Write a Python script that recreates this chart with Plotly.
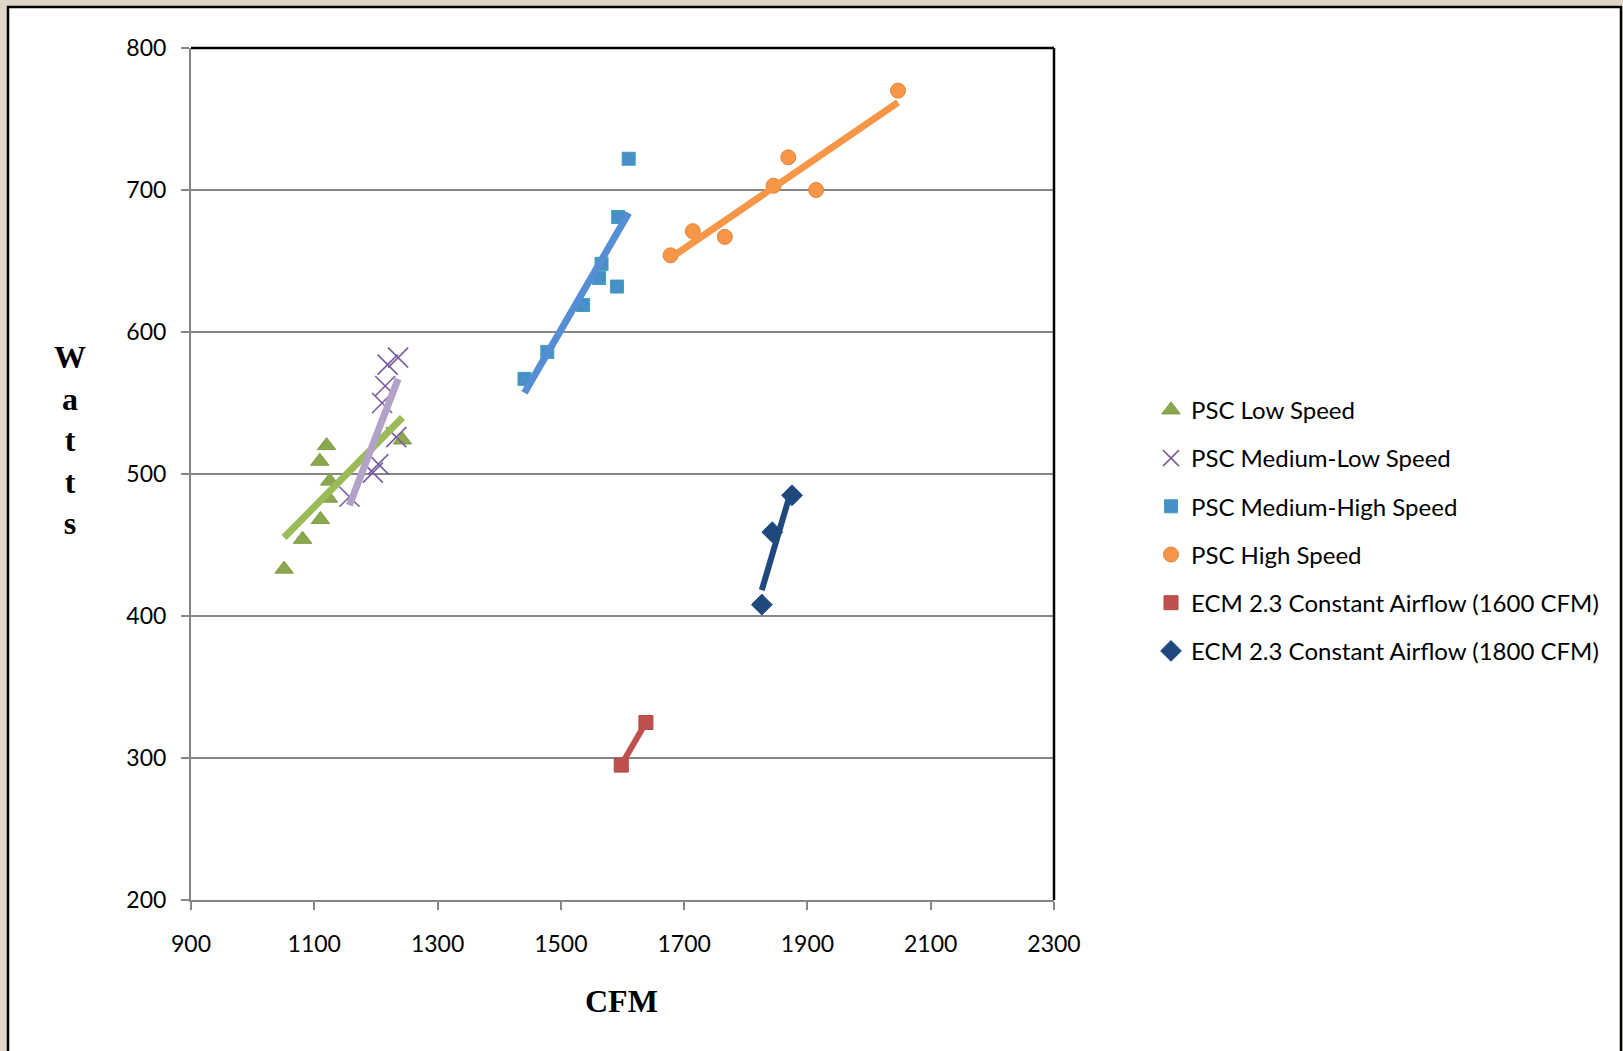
import numpy as np
import plotly.graph_objects as go

# ---- data ----
low_cfm = [1051, 1081, 1110, 1109, 1120, 1123, 1125, 1243]
low_w = [433, 454, 468, 509, 520, 483, 495, 524]

medlow_cfm = [1157, 1195, 1204, 1210, 1215, 1219, 1233, 1236]
medlow_w = [484, 501, 507, 550, 562, 577, 526, 582]

medhigh_cfm = [1441, 1478, 1536, 1562, 1566, 1591, 1593, 1610]
medhigh_w = [567, 586, 619, 638, 648, 632, 681, 722]

high_cfm = [1678, 1714, 1766, 1845, 1869, 1914, 2047]
high_w = [654, 671, 667, 703, 723, 700, 770]

ecm1600_cfm = [1598, 1638]
ecm1600_w = [295, 325]

ecm1800_cfm = [1826, 1843, 1875]
ecm1800_w = [408, 459, 485]

series_names = ["PSC Low Speed", "PSC Medium-Low Speed", "PSC Medium-High Speed",
                "PSC High Speed", "ECM 2.3 Constant Airflow (1600 CFM)",
                "ECM 2.3 Constant Airflow (1800 CFM)"]

x_ticks = [900, 1100, 1300, 1500, 1700, 1900, 2100, 2300]
y_ticks = [200, 300, 400, 500, 600, 700, 800]

# ---- styling ----
FONT = "Lato"
W, H = 1623, 1051
L, R, T, B = 191, 1054, 48, 900.5

def px_x(p):
    return (p - L) / (R - L)

def px_y(p):
    return (B - p) / (B - T)

series = [
    (low_cfm, low_w, dict(symbol="triangle-up", size=16, color="#8CA84E",
                          line=dict(color="#7E9A45", width=1)), "#9BBB59"),
    (medlow_cfm, medlow_w, dict(symbol="x-thin", size=20, color="#7A5C9E",
                                line=dict(color="#7A5C9E", width=1.6)), "#B3A2C7"),
    (medhigh_cfm, medhigh_w, dict(symbol="square-x", size=13, color="#4A8CCB",
                                  line=dict(color="#3FA3B8", width=1)), "#558ED5"),
    (high_cfm, high_w, dict(symbol="circle", size=15, color="#F79646",
                            line=dict(color="#E0843A", width=1)), "#F79646"),
    (ecm1600_cfm, ecm1600_w, dict(symbol="square", size=14, color="#C0504D",
                                  line=dict(color="#B04845", width=1)), "#C0504D"),
    (ecm1800_cfm, ecm1800_w, dict(symbol="diamond", size=16, color="#1F497D",
                                  line=dict(color="#1F497D", width=1)), "#1F497D"),
]

fig = go.Figure()

for i, (xs, ys, mk, _) in enumerate(series):
    fig.add_trace(go.Scatter(x=xs, y=ys, mode="markers", marker=mk,
                             name=series_names[i], legendgroup=f"g{i}",
                             showlegend=True))

for i, (xs, ys, _, lc) in enumerate(series):
    xa = np.array(xs, dtype=float)
    ya = np.array(ys, dtype=float)
    m, c = np.polyfit(xa, ya, 1)
    xr = np.array([xa.min(), xa.max()])
    fig.add_trace(go.Scatter(x=xr, y=m * xr + c, mode="lines",
                             line=dict(color=lc, width=7 if i < 4 else 6),
                             showlegend=False, hoverinfo="skip"))

fig.update_layout(
    width=W, height=H,
    margin=dict(l=L, r=W - R, t=T, b=H - B, autoexpand=False),
    paper_bgcolor="#DDD6C9",
    plot_bgcolor="white",
    font=dict(family=FONT, size=23, color="black"),
    showlegend=True,
    legend=dict(x=px_x(1151), y=px_y(388), xanchor="left", yanchor="top",
                bgcolor="rgba(0,0,0,0)", font=dict(family=FONT, size=24),
                traceorder="grouped", tracegroupgap=14, itemwidth=30),
    xaxis=dict(range=[900, 2300], tickvals=x_ticks, ticks="outside", ticklen=8,
               tickcolor="#868686", tickwidth=1.5, showgrid=False, zeroline=False,
               showline=True, linecolor="#868686", linewidth=2,
               ticklabelstandoff=14),
    yaxis=dict(range=[200, 800], tickvals=y_ticks, ticks="outside", ticklen=8,
               tickcolor="#868686", tickwidth=1.5, showgrid=True,
               gridcolor="#868686", gridwidth=1.5, zeroline=False,
               showline=True, linecolor="#868686", linewidth=2,
               ticklabelstandoff=10),
    shapes=[
        dict(type="rect", xref="paper", yref="paper",
             x0=px_x(8), x1=px_x(1621), y0=px_y(1070), y1=px_y(7),
             fillcolor="white", line=dict(color="black", width=2.5), layer="below"),
        dict(type="line", xref="paper", yref="paper", x0=0, x1=1, y0=1, y1=1,
             line=dict(color="black", width=2.5), layer="above"),
        dict(type="line", xref="paper", yref="paper", x0=1, x1=1, y0=0, y1=1,
             line=dict(color="black", width=2.5), layer="above"),
    ],
    annotations=[
        dict(text="W<br>a<br>t<br>t<br>s", xref="paper", yref="paper",
             x=px_x(70), y=px_y(440), xanchor="center", yanchor="middle",
             showarrow=False, align="center",
             font=dict(family="Liberation Serif", size=32, color="black",
                       weight="bold")),
        dict(text="CFM", xref="paper", yref="paper",
             x=px_x(621), y=px_y(1002), xanchor="center", yanchor="middle",
             showarrow=False,
             font=dict(family="Liberation Serif", size=32, color="black",
                       weight="bold")),
    ],
)

fig.write_html("out.html",
               config={"displayModeBar": False},
               post_script="document.body.style.margin='0';"
                           "document.body.style.overflow='hidden';")
